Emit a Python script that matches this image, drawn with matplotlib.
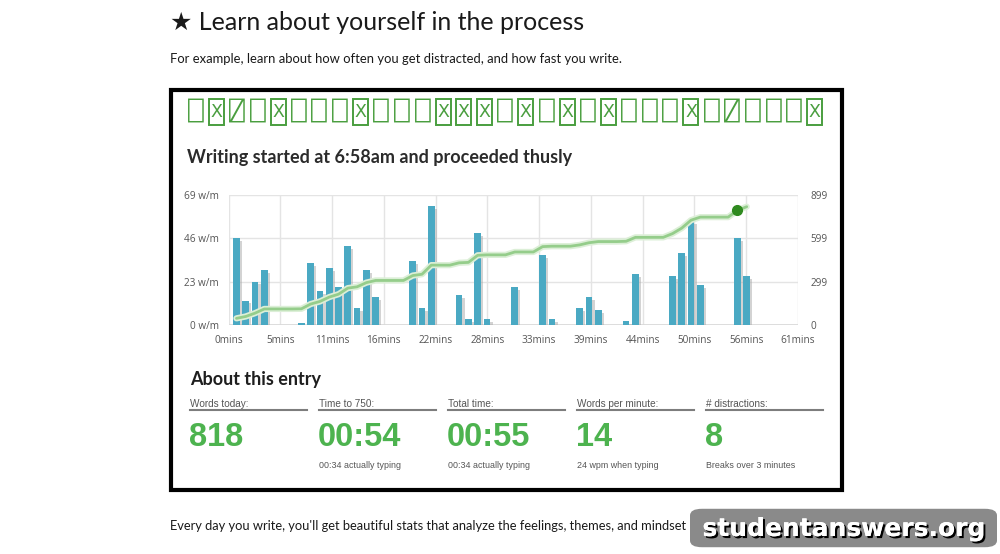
import numpy as np
import matplotlib
matplotlib.use("Agg")
import matplotlib.pyplot as plt
from matplotlib.patches import Rectangle, FancyBboxPatch
from matplotlib.path import Path
import matplotlib.patheffects as pe

W, H = 1000, 554

# words written in each minute of the session
minutes = list(range(1, 57))
words_per_min = [46, 13, 23, 29, 0, 0, 0, 1, 33, 18, 30, 20, 42, 9, 29, 15,
                 0, 0, 0, 34, 9, 63, 0, 0, 16, 3, 49, 3, 0, 0, 20, 0, 0, 37,
                 3, 0, 0, 9, 15, 8, 0, 0, 2, 27, 0, 0, 0, 26, 38, 55, 21, 0,
                 0, 0, 46, 26]
marker_minute = 55

x_labels = ["0mins", "5mins", "11mins", "16mins", "22mins", "28mins", "33mins",
            "39mins", "44mins", "50mins", "56mins", "61mins"]
left_ticks = [0, 23, 46, 69]
left_labels = ["0 w/m", "23 w/m", "46 w/m", "69 w/m"]
right_ticks = [0, 299, 599, 899]

# the green heading is a row of missing-glyph boxes
title_glyphs = "⎕X⍁⎕X⎕⎕⎕X⎕⎕⎕XXX⎕X⎕X⎕X⎕⎕⎕X⎕⍁⎕⎕⎕X"

stat_labels = ["Words today:", "Time to 750:", "Total time:", "Words per minute:", "# distractions:"]
stat_values = ["818", "00:54", "00:55", "14", "8"]
stat_notes = ["", "00:34 actually typing", "00:34 actually typing", "24 wpm when typing",
              "Breaks over 3 minutes"]

BAR = "#4aa9c3"
GREEN = "#4db34f"
BOXGREEN = "#4a9e3f"


def fx(x):
    return x / W


def fy(y):
    return 1 - y / H


def tall_box(x0, y0, width, height, mutation_size):
    # narrow, tall frame like a missing-glyph box
    px = 0.09 * mutation_size
    py = 0.23 * mutation_size
    verts = [(x0 - px, y0 - py), (x0 + width + px, y0 - py),
             (x0 + width + px, y0 + height + py), (x0 - px, y0 + height + py),
             (x0 - px, y0 - py)]
    return Path(verts, closed=True)


fig = plt.figure(figsize=(10, 5.54), dpi=100)
fig.patch.set_facecolor("white")

# page text
fig.text(fx(170), fy(22), "★ Learn about yourself in the process", fontsize=18,
         family=["Lato", "DejaVu Sans"], color="#1a1a1a", va="center", ha="left")
fig.text(fx(170), fy(59), "For example, learn about how often you get distracted, and how fast you write.",
         fontsize=9.4, family="Lato", color="#1a1a1a", va="center", ha="left")

# black frame
fig.patches.append(Rectangle((fx(171), fy(490)), fx(842 - 171), (490 - 90) / H,
                             transform=fig.transFigure, fill=False, edgecolor="black",
                             linewidth=3))

step = (828 - 188) / len(title_glyphs)
for i, ch in enumerate(title_glyphs):
    cx = 188 + i * step + 7.5
    if ch == "X":
        fig.text(fx(cx), fy(112), ch, fontsize=12.5, family="DejaVu Sans", color=BOXGREEN,
                 ha="center", va="center",
                 bbox=dict(boxstyle=tall_box, facecolor="none", edgecolor=BOXGREEN,
                           linewidth=1.4))
    else:
        fig.text(fx(cx), fy(113), ch, fontsize=19, family=["DejaVu Sans Mono", "DejaVu Sans"],
                 color=BOXGREEN, ha="center", va="center")

fig.text(fx(187), fy(157), "Writing started at 6:58am and proceeded thusly", fontsize=13,
         family="Lato", weight="bold", color="#2b2b2b", va="center", ha="left")

# chart
x0, x1 = 0.14, 61.53
ax = fig.add_axes([fx(228.5), 1 - 325 / H, fx(798 - 228.5), (325 - 195) / H])
ax.set_xlim(x0, x1)
ax.set_ylim(0, 69)
ax.set_xticks(np.linspace(x0, x1, 12))
ax.set_xticklabels(x_labels)
ax.set_yticks(left_ticks)
ax.set_yticklabels(left_labels)
ax.grid(True, color="#e4e4e4", linewidth=1)
ax.set_axisbelow(True)
for s in ax.spines.values():
    s.set_visible(False)
ax.axhline(0, color="#d8d8d8", linewidth=1.2, zorder=1)
ax.tick_params(length=0, labelsize=7.2, labelcolor="#555555", pad=7)
for t in ax.get_xticklabels() + ax.get_yticklabels():
    t.set_family("Open Sans")

vals = np.array(words_per_min)
mins = np.array(minutes)
ax.bar(mins + 0.25, np.clip(vals - 1.5, 0, None), width=0.72, color="#a8a8a8", alpha=0.5,
       zorder=2, linewidth=0)
ax.bar(mins, vals, width=0.72, color=BAR, zorder=3, linewidth=0)

ax2 = ax.twinx()
ax2.set_ylim(0, 899)
ax2.set_yticks(right_ticks)
ax2.tick_params(length=0, labelsize=7.2, labelcolor="#555555", pad=9)
for t in ax2.get_yticklabels():
    t.set_family("Open Sans")
for s in ax2.spines.values():
    s.set_visible(False)
total = np.cumsum(vals)
ax2.plot(mins, total, color="#dcefd7", linewidth=4.5, solid_capstyle="round", zorder=4)
ax2.plot(mins, total, color="#95cd8b", linewidth=2, solid_capstyle="round", zorder=5)
ax2.plot([marker_minute], [total[marker_minute - 1]], "o", color="#2f8a1f", markersize=7, zorder=6)

# about this entry
fig.text(fx(190), fy(379), "About this entry", fontsize=13, family="Lato", weight="bold",
         color="#1e1e1e", va="center", ha="left")
for i, (lab, val, note) in enumerate(zip(stat_labels, stat_values, stat_notes)):
    cx = 190 + i * 129
    fig.text(fx(cx), fy(404), lab, fontsize=7.2, family="Liberation Sans", color="#555555",
             va="center", ha="left")
    fig.lines.append(plt.Line2D([fx(cx), fx(cx + 117)], [fy(410), fy(410)],
                                transform=fig.transFigure, color="#7d7d7d", linewidth=1.5))
    fig.text(fx(cx - 1), fy(437), val, fontsize=23.5, family="Liberation Sans", weight="bold",
             color=GREEN, va="center", ha="left")
    fig.text(fx(cx), fy(466), note, fontsize=6.4, family="Liberation Sans", color="#555555",
             va="center", ha="left")

# the rest of this sentence is hidden behind the watermark
fig.text(fx(170), fy(526), "Every day you write, you'll get beautiful stats that analyze the feelings, "
         "themes, and mindset", fontsize=9.25, family="Lato", color="#1a1a1a",
         va="center", ha="left", zorder=1)

# watermark
box = FancyBboxPatch((fx(694), fy(545)), fx(299), (545 - 511) / H,
                     boxstyle="round,pad=0.004,rounding_size=0.012",
                     transform=fig.transFigure, facecolor="#8a8a8a", edgecolor="none", zorder=5)
fig.patches.append(box)
fig.text(fx(844), fy(529), "studentanswers.org", fontsize=18, family="DejaVu Sans", weight="bold",
         color="white", ha="center", va="center", zorder=6,
         path_effects=[pe.withSimplePatchShadow(offset=(1.5, -1.5), shadow_rgbFace="black", alpha=1),
                       pe.Normal()])

fig.savefig("out.png", dpi=100)
